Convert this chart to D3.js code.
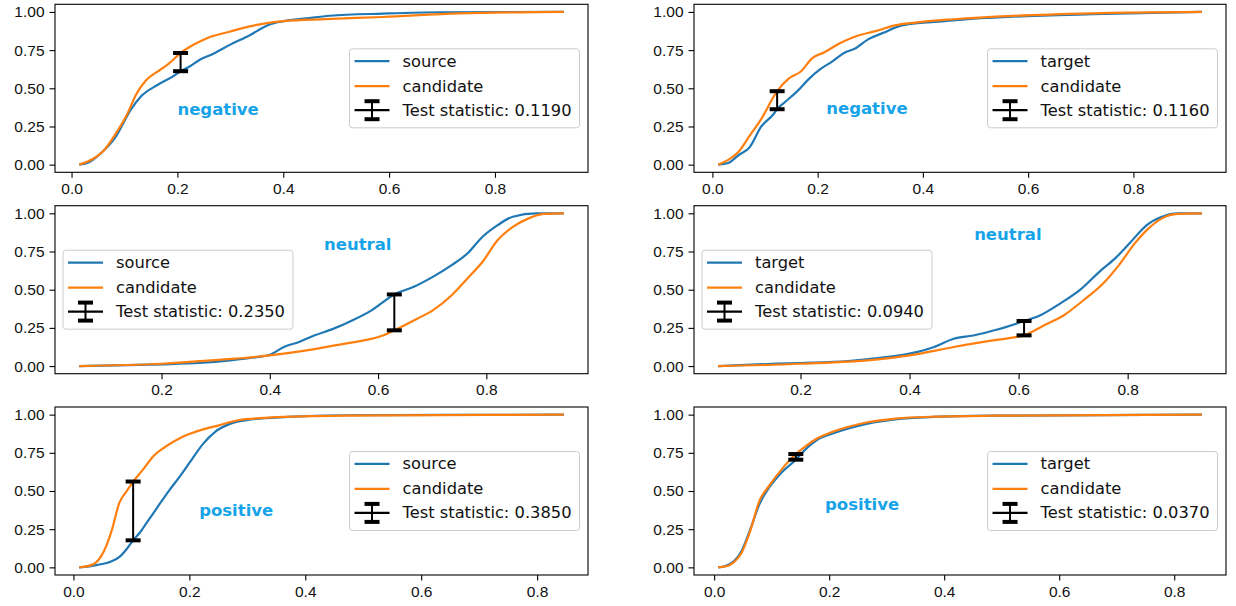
<!DOCTYPE html>
<html>
<head>
<meta charset="utf-8">
<script src="https://cdn.jsdelivr.net/npm/d3@7"></script>
<style>
  body { margin: 0; background: #fff; }
  svg { display: block; font-family: "DejaVu Sans", sans-serif; }
</style>
</head>
<body>
<div id="chart"></div>
<script>

// ─── DATA ───────────────────────────────────────────────────────────────────────
// one panel per sentiment, left column compares with "source", right with "target"
const panelNames = ['negative', 'negative', 'neutral', 'neutral', 'positive', 'positive'];
const refNames = ['source', 'target', 'source', 'target', 'source', 'target'];
const candName = 'candidate';

// ECDF points: [x, cumulative share]
const negSource = [[0.0145,0],[0.033,0.015],[0.054,0.07],[0.083,0.18],[0.112,0.36],[0.131,0.446],[0.163,0.523],[0.194,0.583],[0.206,0.612],[0.219,0.634],[0.244,0.69],[0.264,0.72],[0.30,0.786],[0.336,0.846],[0.372,0.915],[0.401,0.94],[0.444,0.958],[0.488,0.975],[0.589,0.989],[0.697,0.998],[0.93,1.0]];
const negSourceCand = [[0.0145,0],[0.04,0.037],[0.061,0.093],[0.083,0.2],[0.105,0.33],[0.122,0.46],[0.14,0.55],[0.163,0.611],[0.182,0.656],[0.206,0.731],[0.232,0.788],[0.257,0.83],[0.30,0.872],[0.336,0.905],[0.372,0.928],[0.401,0.94],[0.48,0.953],[0.589,0.967],[0.733,0.99],[0.93,1.0]];

const negTarget = [[0.011,0],[0.03,0.011],[0.049,0.06],[0.071,0.115],[0.093,0.25],[0.116,0.33],[0.123,0.363],[0.138,0.41],[0.161,0.48],[0.183,0.56],[0.205,0.625],[0.228,0.676],[0.25,0.731],[0.273,0.764],[0.295,0.819],[0.325,0.863],[0.355,0.907],[0.385,0.925],[0.422,0.934],[0.497,0.956],[0.571,0.969],[0.721,0.985],[0.93,1.0]];
const negTargetCand = [[0.011,0],[0.03,0.031],[0.049,0.081],[0.071,0.19],[0.093,0.3],[0.123,0.481],[0.146,0.566],[0.168,0.61],[0.19,0.698],[0.213,0.736],[0.243,0.797],[0.273,0.841],[0.31,0.874],[0.347,0.912],[0.385,0.93],[0.459,0.952],[0.571,0.974],[0.721,0.991],[0.93,1.0]];

const neuSource = [[0.048,0],[0.115,0.004],[0.2,0.011],[0.27,0.02],[0.327,0.037],[0.376,0.059],[0.4,0.074],[0.426,0.125],[0.454,0.158],[0.482,0.2],[0.518,0.245],[0.553,0.3],[0.588,0.365],[0.63,0.469],[0.666,0.519],[0.701,0.584],[0.736,0.661],[0.765,0.737],[0.793,0.847],[0.821,0.923],[0.849,0.978],[0.892,1.0],[0.943,1.0]];
const neuSourceCand = [[0.048,0],[0.2,0.015],[0.292,0.037],[0.4,0.07],[0.468,0.103],[0.539,0.147],[0.581,0.173],[0.609,0.2],[0.63,0.234],[0.673,0.311],[0.701,0.365],[0.736,0.464],[0.765,0.573],[0.793,0.683],[0.821,0.825],[0.849,0.912],[0.878,0.967],[0.906,0.996],[0.943,1.0]];

const neuTarget = [[0.049,0],[0.121,0.011],[0.2,0.02],[0.287,0.033],[0.337,0.05],[0.4,0.081],[0.445,0.125],[0.481,0.179],[0.517,0.2],[0.561,0.239],[0.61,0.295],[0.64,0.333],[0.676,0.409],[0.712,0.497],[0.748,0.617],[0.777,0.705],[0.806,0.814],[0.835,0.923],[0.863,0.978],[0.892,1.0],[0.936,1.0]];
const neuTargetCand = [[0.049,0],[0.2,0.015],[0.337,0.042],[0.4,0.07],[0.481,0.125],[0.553,0.168],[0.589,0.186],[0.61,0.201],[0.647,0.267],[0.683,0.333],[0.719,0.431],[0.755,0.54],[0.784,0.661],[0.813,0.803],[0.835,0.89],[0.863,0.967],[0.892,0.996],[0.936,1.0]];

const posSource = [[0.01,0],[0.04,0.015],[0.066,0.04],[0.08,0.07],[0.092,0.12],[0.103,0.177],[0.115,0.23],[0.125,0.284],[0.145,0.394],[0.165,0.503],[0.185,0.602],[0.205,0.711],[0.224,0.81],[0.244,0.886],[0.271,0.941],[0.304,0.967],[0.37,0.985],[0.469,0.996],[0.846,1.0]];
const posSourceCand = [[0.01,0],[0.033,0.018],[0.053,0.109],[0.066,0.241],[0.079,0.42],[0.092,0.5],[0.103,0.562],[0.119,0.635],[0.139,0.733],[0.158,0.788],[0.185,0.849],[0.218,0.897],[0.251,0.93],[0.284,0.963],[0.337,0.98],[0.469,0.993],[0.846,1.0]];

const posTarget = [[0.007,0],[0.021,0.011],[0.034,0.039],[0.048,0.109],[0.062,0.241],[0.079,0.416],[0.096,0.525],[0.116,0.617],[0.142,0.705],[0.157,0.766],[0.178,0.832],[0.205,0.875],[0.232,0.908],[0.267,0.941],[0.315,0.969],[0.383,0.985],[0.485,0.993],[0.848,1.0]];
const posTargetCand = [[0.007,0],[0.021,0.007],[0.034,0.033],[0.048,0.098],[0.062,0.23],[0.079,0.438],[0.096,0.536],[0.116,0.635],[0.142,0.742],[0.157,0.788],[0.178,0.842],[0.205,0.886],[0.232,0.919],[0.267,0.95],[0.315,0.974],[0.383,0.987],[0.485,0.993],[0.848,1.0]];

const refSeries = [negSource, negTarget, neuSource, neuTarget, posSource, posTarget];
const candSeries = [negSourceCand, negTargetCand, neuSourceCand, neuTargetCand, posSourceCand, posTargetCand];

// KS statistic: where it was measured and the two ECDF values there
const statX = [0.206, 0.123, 0.63, 0.61, 0.103, 0.142];
const statLo = [0.612, 0.363, 0.234, 0.201, 0.177, 0.705];
const statHi = [0.731, 0.481, 0.469, 0.295, 0.562, 0.742];
const statValue = [0.119, 0.116, 0.235, 0.094, 0.385, 0.037];

const xTicks = [0, 0.2, 0.4, 0.6, 0.8];
const yTicks = [0, 0.25, 0.5, 0.75, 1];

// ─── LAYOUT ─────────────────────────────────────────────────────────────────────
const W = 1236, H = 606;
const colLeft = [55, 694], colWidth = [533, 532];
const rowTop = [4.3, 205.7, 407], panelH = 168;
// where the sentiment word sits, as share of the axes box
const nameX = [0.306, 0.325, 0.568, 0.59, 0.34, 0.316];
const nameY = [0.629, 0.622, 0.229, 0.169, 0.615, 0.583];
const legendSide = ['right', 'right', 'left', 'left', 'right', 'right'];

const blue = '#1f77b4', orange = '#ff7f0e', nameColor = '#17a3e8';
const fs = 15.5, legFs = 16.3;

const svg = d3.select('#chart').append('svg')
    .attr('width', W)
    .attr('height', H)
    .style('background', '#fff');

refSeries.forEach((ref, i) => {
    const r = Math.floor(i / 2), c = i % 2;
    const w = colWidth[c];
    const cand = candSeries[i];

    const g = svg.append('g')
        .attr('transform', `translate(${colLeft[c]}, ${rowTop[r]})`);

    // matplotlib-like 5% margins around the data
    const [x0, x1] = d3.extent(ref.concat(cand), d => d[0]);
    const pad = (x1 - x0) * 0.05;
    const x = d3.scaleLinear().domain([x0 - pad, x1 + pad]).range([0, w]);
    const y = d3.scaleLinear().domain([-0.05, 1.05]).range([panelH, 0]);

    // ─── AXES ───
    const xAxis = d3.axisBottom(x)
        .tickValues(xTicks.filter(t => t >= x.domain()[0] && t <= x.domain()[1]))
        .tickFormat(d3.format('.1f'))
        .tickSize(5.5)
        .tickPadding(5);
    const gx = g.append('g')
        .attr('transform', `translate(0, ${panelH})`)
        .call(xAxis);

    const yAxis = d3.axisLeft(y)
        .tickValues(yTicks)
        .tickFormat(d3.format('.2f'))
        .tickSize(5.5)
        .tickPadding(5);
    const gy = g.append('g').call(yAxis);

    [gx, gy].forEach(a => {
        a.select('.domain').remove();
        a.selectAll('line').attr('stroke', '#000').attr('stroke-width', 1.1);
        a.selectAll('text')
            .attr('fill', '#111')
            .style('font-size', fs + 'px');
    });

    // ─── LINES ───
    const line = d3.line()
        .x(d => x(d[0]))
        .y(d => y(d[1]))
        .curve(d3.curveMonotoneX);

    g.append('path')
        .datum(ref)
        .attr('d', line)
        .attr('fill', 'none')
        .attr('stroke', blue)
        .attr('stroke-width', 2.2);
    g.append('path')
        .datum(cand)
        .attr('d', line)
        .attr('fill', 'none')
        .attr('stroke', orange)
        .attr('stroke-width', 2.2);

    // ─── KS BAR ───
    const bx = x(statX[i]);
    g.append('line')
        .attr('x1', bx).attr('x2', bx)
        .attr('y1', y(statLo[i])).attr('y2', y(statHi[i]))
        .attr('stroke', '#000').attr('stroke-width', 2);
    [statLo[i], statHi[i]].forEach(v => {
        g.append('line')
            .attr('x1', bx - 7.5).attr('x2', bx + 7.5)
            .attr('y1', y(v)).attr('y2', y(v))
            .attr('stroke', '#000').attr('stroke-width', 4);
    });

    // sentiment word
    g.append('text')
        .attr('x', nameX[i] * w)
        .attr('y', nameY[i] * panelH)
        .attr('text-anchor', 'middle')
        .attr('dominant-baseline', 'central')
        .attr('fill', nameColor)
        .style('font-size', '16.5px')
        .style('font-weight', 'bold')
        .text(panelNames[i]);

    // ─── LEGEND ───
    const labels = [refNames[i], candName, `Test statistic: ${statValue[i].toFixed(4)}`];
    const leg = g.append('g');
    const box = leg.append('rect')
        .attr('rx', 3).attr('ry', 3)
        .attr('fill', '#fff').attr('fill-opacity', 0.8)
        .attr('stroke', '#cccccc').attr('stroke-width', 1);
    const rowsY = [12.4, 37.4, 61.4];
    const texts = labels.map((t, k) => leg.append('text')
        .attr('x', 53)
        .attr('y', rowsY[k])
        .attr('dominant-baseline', 'central')
        .attr('fill', '#111')
        .style('font-size', legFs + 'px')
        .text(t));
    leg.append('line').attr('x1', 5).attr('x2', 40).attr('y1', rowsY[0]).attr('y2', rowsY[0])
        .attr('stroke', blue).attr('stroke-width', 2.2);
    leg.append('line').attr('x1', 5).attr('x2', 40).attr('y1', rowsY[1]).attr('y2', rowsY[1])
        .attr('stroke', orange).attr('stroke-width', 2.2);
    // errorbar glyph
    leg.append('line').attr('x1', 5).attr('x2', 40).attr('y1', rowsY[2]).attr('y2', rowsY[2])
        .attr('stroke', '#000').attr('stroke-width', 2.2);
    leg.append('line').attr('x1', 22.5).attr('x2', 22.5).attr('y1', rowsY[2] - 9).attr('y2', rowsY[2] + 9)
        .attr('stroke', '#000').attr('stroke-width', 2);
    [-9, 9].forEach(o => {
        leg.append('line').attr('x1', 15).attr('x2', 30).attr('y1', rowsY[2] + o).attr('y2', rowsY[2] + o)
            .attr('stroke', '#000').attr('stroke-width', 4);
    });

    const textW = d3.max(texts, t => t.node().getComputedTextLength());
    const legW = 53 + textW + 8, legH = 79;
    box.attr('width', legW).attr('height', legH);
    const lx = legendSide[i] === 'right' ? w - 8.5 - legW : 8;
    leg.attr('transform', `translate(${lx}, ${(panelH - legH) / 2})`);

    // frame
    g.append('rect')
        .attr('width', w).attr('height', panelH)
        .attr('fill', 'none')
        .attr('stroke', '#000')
        .attr('stroke-width', 1.1);
});

</script>
</body>
</html>
